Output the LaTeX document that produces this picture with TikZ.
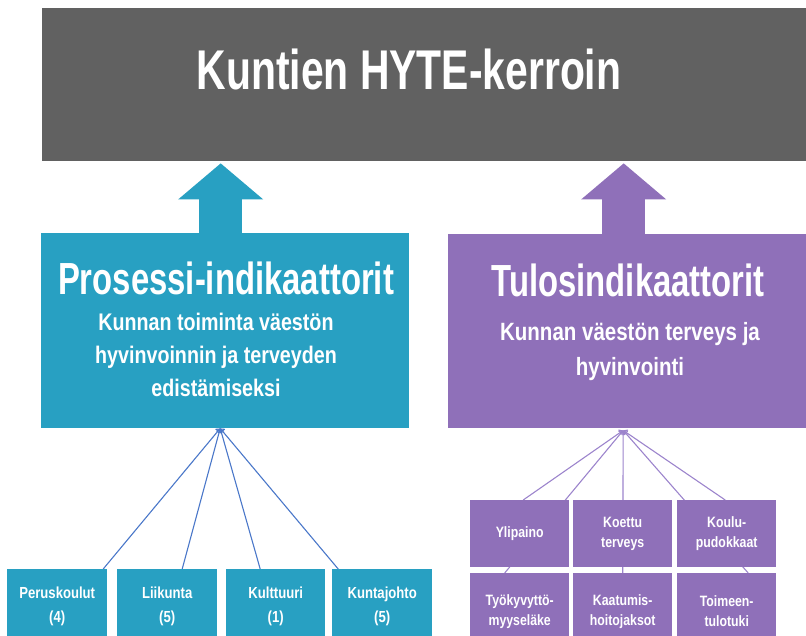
\documentclass[tikz,border=0pt]{standalone}
\usepackage{fontspec}
\setmainfont{Liberation Sans}
\newfontfamily\headfont[FakeStretch=0.73]{Liberation Sans}
\newfontfamily\bodyfont[FakeStretch=0.82]{Liberation Sans}
\usetikzlibrary{arrows.meta,backgrounds}
\definecolor{hytegray}{HTML}{616161}
\definecolor{procblue}{HTML}{28A0C2}
\definecolor{tuluspurple}{HTML}{8F70B9}
\definecolor{linkblue}{HTML}{4A77C9}
\definecolor{linkpurple}{HTML}{9C84CC}
\begin{document}
\begin{tikzpicture}[x=1pt, y=-1pt, line join=round, line cap=round, >={Straight Barb[length=3pt,width=6pt]},
		kbox/.style={rectangle, inner sep=0pt, anchor=north west, text=white, align=center},
		txt/.style={text=white, inner sep=0pt, align=center, anchor=base},
		procitem/.style={kbox, fill=procblue, minimum width=100pt, minimum height=74pt, font=\bodyfont\bfseries\fontsize{16}{24}\selectfont},
		tulositem/.style={kbox, fill=tuluspurple, minimum width=99pt, font=\bodyfont\bfseries\fontsize{15}{20}\selectfont},
		bigarrow/.style={line width=43pt, line cap=butt, -{Triangle[length=36pt,width=85pt,line width=0pt]}, shorten >=2pt},
		link/.style={<-, line width=1.1pt}]
	\useasboundingbox (0,0) rectangle (806,636);
	\node[kbox, fill=hytegray, minimum width=764pt, minimum height=153pt] (hyte) at (42,8) {};
	\node[kbox, fill=procblue, minimum width=368pt, minimum height=195pt] (proc) at (41,233) {};
	\node[kbox, fill=tuluspurple, minimum width=358pt, minimum height=194pt] (tulos) at (448,234) {};
	\node[txt, font=\headfont\bfseries\fontsize{56}{60}\selectfont] (hytetitle) at (409,90) {Kuntien HYTE-kerroin};
	\node[txt, font=\headfont\bfseries\fontsize{45}{50}\selectfont] (proctitle) at (226,295) {Prosessi-indikaattorit};
	\node[txt, font=\bodyfont\bfseries\fontsize{24}{33}\selectfont] (proctext) at (216,396) {Kunnan toiminta väestön\\hyvinvoinnin ja terveyden\\edistämiseksi};
	\node[txt, font=\headfont\bfseries\fontsize{45}{50}\selectfont] (tulostitle) at (628,297) {Tulosindikaattorit};
	\node[txt, font=\bodyfont\bfseries\fontsize{25}{35}\selectfont] (tulostext) at (630,375) {Kunnan väestön terveys ja\\hyvinvointi};
	\draw[bigarrow, procblue] ([xshift=-4.5pt]proc.north) -- ([xshift=-4.5pt]proc.north |- hyte.south);
	\draw[bigarrow, tuluspurple] ([xshift=-3.5pt]tulos.north) -- ([xshift=-3.5pt]tulos.north |- hyte.south);
	\node[procitem] (peru) at (7,569) {Peruskoulut\\(4)};
	\node[procitem] (liik) at (117,569) {Liikunta\\(5)};
	\node[procitem, minimum width=99pt] (kult) at (226,569) {Kulttuuri\\(1)};
	\node[procitem] (kjoh) at (332,569) {Kuntajohto\\(5)};
	\node[tulositem, minimum height=67pt] (ylip) at (470,500) {Ylipaino};
	\node[tulositem, minimum height=67pt] (koet) at (573,500) {Koettu\\terveys};
	\node[tulositem, minimum height=67pt] (koul) at (677,500) {Koulu-\\pudokkaat};
	\node[tulositem, minimum height=76pt] (tyok) at (470,573) {Työkyvyttö-\\myyseläke};
	\node[tulositem, minimum height=76pt] (kaat) at (573,573) {Kaatumis-\\hoitojaksot};
	\node[tulositem, minimum height=76pt] (toim) at (677,573) {Toimeen-\\tulotuki};
	\begin{scope}[on background layer]
		\draw[link, linkblue] ([xshift=-5pt]proc.south) -- ([xshift=46pt]peru.north);
		\draw[link, linkblue] ([xshift=-5pt]proc.south) -- ([xshift=15pt]liik.north);
		\draw[link, linkblue] ([xshift=-5pt]proc.south) -- ([xshift=-15.5pt]kult.north);
		\draw[link, linkblue] ([xshift=-5pt]proc.south) -- ([xshift=-44pt]kjoh.north);
		\draw[link, linkpurple] ([xshift=-4pt,yshift=-2pt]tulos.south) -- ([xshift=3.5pt]ylip.north);
		\draw[link, linkpurple] ([xshift=-4pt,yshift=-2pt]tulos.south) -- ([xshift=-15pt]tyok.north);
		\draw[link, linkpurple] ([xshift=-4pt,yshift=-2pt]tulos.south) -- (kaat.north);
		\draw[link, linkpurple] ([xshift=-4pt,yshift=-2pt]tulos.south) -- ([xshift=-1.5pt]koul.north);
		\draw[link, linkpurple] ([xshift=-4pt,yshift=-2pt]tulos.south) -- ([xshift=21.5pt]toim.north);
	\end{scope}
\end{tikzpicture}
\end{document}
